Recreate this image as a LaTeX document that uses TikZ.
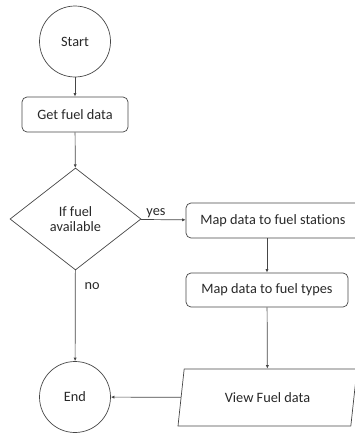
\documentclass[tikz,border=0pt]{standalone}
\usepackage{fontspec}
\setmainfont{Carlito}[Ligatures=NoCommon]
\usetikzlibrary{shapes, arrows.meta, positioning}
\definecolor{cLine}{RGB}{70,70,70}
\definecolor{cText}{RGB}{40,40,40}

\begin{document}
\begin{tikzpicture}[x=1pt, y=-1pt,
            base/.style={draw=cLine, line width=0.7pt, inner sep=0pt, text=cText, font=\fontsize{14.3}{15.5}\selectfont},
            term/.style={base, circle, minimum size=71pt},
            proc/.style={base, rectangle, rounded corners=5pt, minimum height=35pt},
            dec/.style={base, diamond, minimum width=131pt, minimum height=102pt, align=center},
            io/.style={base, trapezium, trapezium left angle=58.4, trapezium right angle=121.6,
              trapezium stretches body, minimum width=179pt, minimum height=57pt},
            arr/.style={draw=cLine, line width=0.7pt, -{Latex[length=3.5pt, width=3.2pt]}},
            lbl/.style={text=cText, font=\fontsize{14.3}{15.5}\selectfont, inner sep=1pt}]
            \useasboundingbox (0,0) rectangle (355,434);
            \node[term] (start) at (75,41.5) {Start};
            \node[proc, minimum width=106pt] (get) at (75,114.5) {Get fuel data};
            \node[dec] (cond) at (75.5,219) {If fuel\\available};
            \node[proc, minimum width=174pt] (stations) at (273,220.5) {Map data to fuel stations};
            \node[proc, minimum width=162pt, minimum height=34pt] (types) at (267,290) {Map data to fuel types};
            \node[io] (view) at (267.5,397.5) {View Fuel data};
            \node[term] (stop) at (75,397) {End};
            \draw[arr] (start) -- (get);
            \draw[arr] (get) -- (cond);
            \draw[arr] (cond) -- (stations) node[lbl, pos=0.34, above] {yes};
            \draw[arr] (cond) -- (stop) node[lbl, pos=0.17, right, xshift=8pt] {no};
            \draw[arr] (types.north |- stations.south) -- (types);
            \draw[arr] (types) -- (view);
            \draw[arr] (view) -- (stop);
        \end{tikzpicture}
\end{document}
